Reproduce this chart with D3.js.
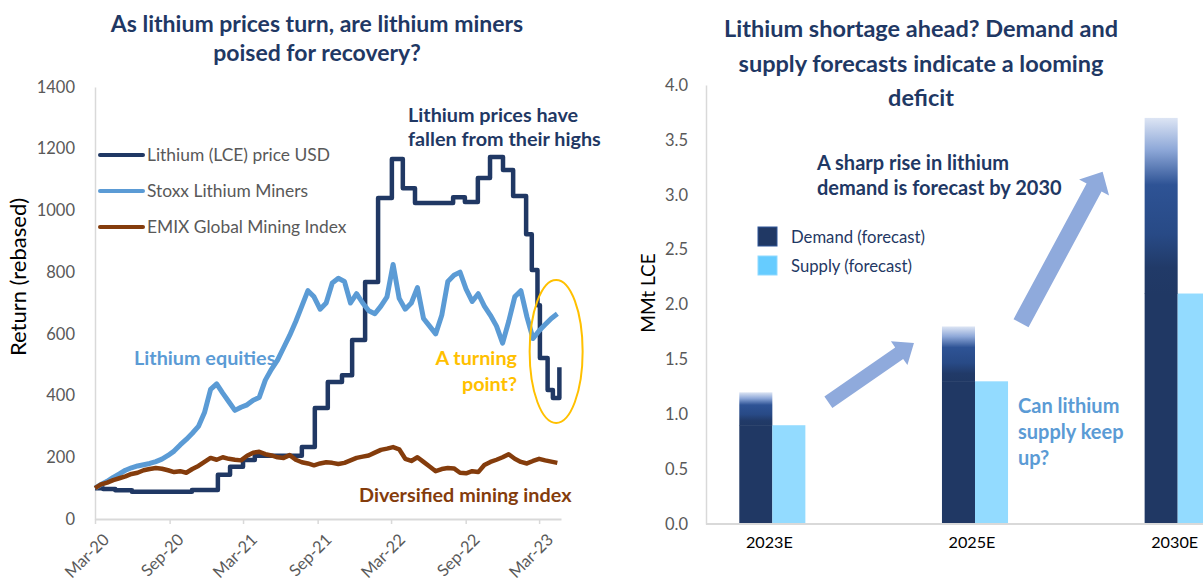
<!DOCTYPE html>
<html>
<head>
<meta charset="utf-8">
<script src="https://cdn.jsdelivr.net/npm/d3@7"></script>
<style>
  body { margin: 0; background: #fff; }
  svg { display: block; font-family: Lato, 'Open Sans', sans-serif; }
</style>
</head>
<body>
<svg id="chart" width="1203" height="583"></svg>
<script>
// ---- left panel: rebased returns ----
const lceDates = ['2020-03-01', '2020-03-21', '2020-04-20', '2020-05-31', '2020-10-26', '2020-12-29',
  '2021-01-28', '2021-03-01', '2021-03-30', '2021-07-24', '2021-08-25', '2021-09-26', '2021-10-31',
  '2021-11-25', '2021-12-27', '2022-01-28', '2022-03-03', '2022-03-30', '2022-04-29', '2022-08-01',
  '2022-08-30', '2022-10-01', '2022-10-31', '2022-12-02', '2022-12-27', '2023-01-28', '2023-02-11',
  '2023-02-25', '2023-03-03', '2023-03-22', '2023-04-04', '2023-04-20'];
const lcePrice = [100, 97, 93, 88, 94, 143, 169, 191, 205, 233, 360, 444, 466, 580, 768, 1040, 1167,
  1072, 1024, 1043, 1027, 1105, 1173, 1131, 1047, 923, 807, 693, 522, 418, 392, 492];

// stoxx + emix are read every 15 days from 1 Mar 2020
const seriesStart = '2020-03-01';
const stepDays = 15;
const stoxxMiners = [100, 112, 122, 135, 146, 158, 166, 172, 176, 180,
  186, 194, 206, 220, 240, 258, 278, 300, 345, 420,
  438, 408, 380, 352, 362, 370, 385, 394, 450, 485,
  515, 555, 595, 640, 690, 740, 720, 680, 700, 765,
  780, 770, 700, 730, 700, 675, 665, 690, 720, 825,
  715, 680, 700, 750, 650, 625, 600, 660, 770, 790,
  800, 745, 705, 730, 690, 660, 625, 570, 640, 720,
  740, 655, 585, 610, 630, 650, 665];
const emixMining = [100, 112, 118, 126, 132, 138, 146, 150, 158, 162,
  165, 163, 158, 152, 155, 150, 162, 172, 185, 198,
  192, 200, 195, 192, 190, 205, 215, 218, 210, 206,
  200, 198, 207, 192, 184, 180, 174, 180, 184, 182,
  178, 182, 190, 198, 202, 206, 215, 224, 228, 233,
  226, 195, 188, 200, 185, 170, 155, 162, 165, 164,
  150, 148, 155, 152, 175, 185, 192, 200, 210, 195,
  185, 180, 188, 195, 190, 186, 182];

const leftNames = ['Lithium (LCE) price USD', 'Stoxx Lithium Miners', 'EMIX Global Mining Index'];
const leftColors = ['#203864', '#5b9bd5', '#843c0c'];
const leftTicksY = [0, 200, 400, 600, 800, 1000, 1200, 1400];
const leftTicksX = ['2020-03-01', '2020-09-01', '2021-03-01', '2021-09-01', '2022-03-01', '2022-09-01', '2023-03-01'];

// ---- right panel: demand vs supply ----
const years = ['2023E', '2025E', '2030E'];
const demand = [1.2, 1.8, 3.7];
const supply = [0.9, 1.3, 2.1];
const rightNames = ['Demand (forecast)', 'Supply (forecast)'];
const rightTicksY = [0, 0.5, 1, 1.5, 2, 2.5, 3, 3.5, 4];

const navy = '#1f3864';
const grey = '#595959';
const axisGrey = '#d9d9d9';

const parse = d3.timeParse('%Y-%m-%d');
const svg = d3.select('#chart');

// ================= LEFT =================
const xL = d3.scaleTime()
  .domain([parse('2020-03-01'), parse('2023-04-24')])
  .range([95, 561]);
const yL = d3.scaleLinear().domain([0, 1400]).range([519, 87]);

const t0 = parse(seriesStart);
const stoxxPts = stoxxMiners.map((v, i) => [d3.timeDay.offset(t0, i * stepDays), v]);
const emixPts = emixMining.map((v, i) => [d3.timeDay.offset(t0, i * stepDays), v]);
const lcePts = lceDates.map((d, i) => [parse(d), lcePrice[i]]);

svg.append('g')
  .attr('class', 'title-left')
  .selectAll('text')
  .data(['As lithium prices turn, are lithium miners', 'poised for recovery?'])
  .join('text')
  .attr('x', 317)
  .attr('y', (d, i) => 32 + i * 29)
  .attr('text-anchor', 'middle')
  .attr('font-size', 23)
  .attr('font-weight', 700)
  .attr('fill', navy)
  .text((d) => d);

// y axis
const yAxisL = svg.append('g')
  .attr('transform', 'translate(95,0)')
  .call(d3.axisLeft(yL).tickValues(leftTicksY).tickFormat(d3.format('d')).tickSize(0).tickPadding(20));
yAxisL.select('.domain').attr('stroke', axisGrey).attr('stroke-width', 1.5);
yAxisL.selectAll('text').attr('font-size', 16.5).attr('fill', grey).attr('font-family', 'Lato');

// x axis
const xAxisL = svg.append('g')
  .attr('transform', 'translate(0,519)')
  .call(d3.axisBottom(xL)
    .tickValues(leftTicksX.map(parse))
    .tickFormat(d3.timeFormat('%b-%y'))
    .tickSize(5)
    .tickSizeOuter(0));
xAxisL.select('.domain').attr('stroke', axisGrey).attr('stroke-width', 2);
xAxisL.selectAll('line').attr('stroke', axisGrey).attr('stroke-width', 1.5);
xAxisL.selectAll('text')
  .attr('font-size', 16.5)
  .attr('fill', grey)
  .attr('font-family', 'Lato')
  .attr('text-anchor', 'end')
  .attr('dx', 0)
  .attr('dy', 0)
  .attr('transform', 'translate(9,16) rotate(-45)');

svg.append('text')
  .attr('transform', 'translate(26,277) rotate(-90)')
  .attr('text-anchor', 'middle')
  .attr('font-size', 22)
  .attr('fill', '#000')
  .text('Return (rebased)');

// lines
const lineL = d3.line().x((d) => xL(d[0])).y((d) => yL(d[1]));
const lineStep = d3.line().x((d) => xL(d[0])).y((d) => yL(d[1])).curve(d3.curveStepAfter);

svg.append('path')
  .datum(lcePts)
  .attr('d', lineStep)
  .attr('fill', 'none')
  .attr('stroke', leftColors[0])
  .attr('stroke-width', 4.5)
  .attr('stroke-linejoin', 'round');

svg.append('path')
  .datum(stoxxPts)
  .attr('d', lineL)
  .attr('fill', 'none')
  .attr('stroke', leftColors[1])
  .attr('stroke-width', 5)
  .attr('stroke-linejoin', 'round');

svg.append('path')
  .datum(emixPts)
  .attr('d', lineL)
  .attr('fill', 'none')
  .attr('stroke', leftColors[2])
  .attr('stroke-width', 4.5)
  .attr('stroke-linejoin', 'round');

// legend
const legL = svg.append('g').selectAll('g')
  .data(leftNames)
  .join('g')
  .attr('transform', (d, i) => `translate(100,${155 + i * 36})`);
legL.append('line')
  .attr('x1', 0).attr('x2', 43)
  .attr('stroke', (d, i) => leftColors[i])
  .attr('stroke-width', 4)
  .attr('stroke-linecap', 'round');
legL.append('text')
  .attr('x', 47)
  .attr('dy', '0.35em')
  .attr('font-size', 17.4)
  .attr('fill', grey)
  .text((d) => d);

// annotations
svg.append('g').selectAll('text')
  .data(['Lithium prices have', 'fallen from their highs'])
  .join('text')
  .attr('x', 408)
  .attr('y', (d, i) => 122 + i * 24)
  .attr('font-size', 19.8)
  .attr('font-weight', 700)
  .attr('fill', navy)
  .text((d) => d);

svg.append('text')
  .attr('x', 134).attr('y', 365)
  .attr('font-size', 19.8).attr('font-weight', 700)
  .attr('fill', '#5b9bd5')
  .text('Lithium equities');

svg.append('g').selectAll('text')
  .data(['A turning', 'point?'])
  .join('text')
  .attr('x', 517)
  .attr('y', (d, i) => 365 + i * 26)
  .attr('text-anchor', 'end')
  .attr('font-size', 19.8)
  .attr('font-weight', 700)
  .attr('fill', '#ffc000')
  .text((d) => d);

svg.append('text')
  .attr('x', 359).attr('y', 502)
  .attr('font-size', 19.8).attr('font-weight', 700)
  .attr('fill', '#843c0c')
  .text('Diversified mining index');

svg.append('ellipse')
  .attr('cx', xL(parse('2023-04-12')))
  .attr('cy', yL(543))
  .attr('rx', 26.5)
  .attr('ry', 71.5)
  .attr('fill', 'none')
  .attr('stroke', '#ffc000')
  .attr('stroke-width', 2);

// ================= RIGHT =================
const xR = d3.scaleBand().domain(years).range([671, 1279]).paddingInner(0.674).paddingOuter(0.337);
const xSub = d3.scaleBand().domain(['demand', 'supply']).range([0, xR.bandwidth()]);
const yR = d3.scaleLinear().domain([0, 4]).range([524, 85]);

svg.append('g')
  .selectAll('text')
  .data(['Lithium shortage ahead? Demand and', 'supply forecasts indicate a looming', 'deficit'])
  .join('text')
  .attr('x', 921)
  .attr('y', (d, i) => 37 + i * 34.5)
  .attr('text-anchor', 'middle')
  .attr('font-size', 23.5)
  .attr('font-weight', 700)
  .attr('fill', navy)
  .text((d) => d);

const defs = svg.append('defs');
const grad = defs.append('linearGradient')
  .attr('id', 'deficitGrad')
  .attr('x1', 0).attr('y1', 1).attr('x2', 0).attr('y2', 0);
[[0, '#203864'], [0.15, '#213a68'], [0.34, '#284a86'], [0.62, '#2e5395'], [0.82, '#8ea8d8'], [1, '#dde5f4']]
  .forEach(([o, c]) => grad.append('stop').attr('offset', o).attr('stop-color', c));

const yAxisR = svg.append('g')
  .attr('transform', 'translate(706,0)')
  .call(d3.axisLeft(yR).tickValues(rightTicksY).tickFormat(d3.format('.1f')).tickSize(0).tickPadding(18));
yAxisR.select('.domain').attr('stroke', axisGrey).attr('stroke-width', 1.5);
yAxisR.selectAll('text').attr('font-size', 16.5).attr('fill', grey).attr('font-family', 'Lato');

svg.append('text')
  .attr('transform', 'translate(655,293) rotate(-90)')
  .attr('text-anchor', 'middle')
  .attr('font-size', 19)
  .attr('fill', '#000')
  .text('MMt LCE');

const groups = svg.append('g').selectAll('g')
  .data(years)
  .join('g')
  .attr('transform', (d) => `translate(${xR(d)},0)`);

// demand: solid to supply level, gradient for the deficit on top
groups.append('rect')
  .attr('x', xSub('demand'))
  .attr('width', xSub.bandwidth())
  .attr('y', (d, i) => yR(supply[i]))
  .attr('height', (d, i) => yR(0) - yR(supply[i]))
  .attr('fill', '#203864');
groups.append('rect')
  .attr('x', xSub('demand'))
  .attr('width', xSub.bandwidth())
  .attr('y', (d, i) => yR(demand[i]))
  .attr('height', (d, i) => yR(supply[i]) - yR(demand[i]) + 0.5)
  .attr('fill', 'url(#deficitGrad)');
groups.append('rect')
  .attr('x', xSub('supply'))
  .attr('width', xSub.bandwidth())
  .attr('y', (d, i) => yR(supply[i]))
  .attr('height', (d, i) => yR(0) - yR(supply[i]))
  .attr('fill', '#93dbff');

const xAxisR = svg.append('g')
  .attr('transform', 'translate(0,524)')
  .call(d3.axisBottom(xR).tickSize(0).tickPadding(12).tickSizeOuter(0));
xAxisR.select('.domain').attr('stroke', axisGrey).attr('stroke-width', 2)
  .attr('d', 'M706,0H1203');
xAxisR.selectAll('text')
  .attr('font-size', 16.2)
  .attr('fill', '#000')
  .attr('font-family', 'Lato')
  .attr('dx', -3);

// legend
const legR = svg.append('g').selectAll('g')
  .data(rightNames)
  .join('g')
  .attr('transform', (d, i) => `translate(758,${227 + i * 29})`);
legR.append('rect')
  .attr('width', 19).attr('height', 19)
  .attr('fill', (d, i) => (i === 0 ? '#203864' : '#66ccff'))
  .attr('stroke', (d, i) => (i === 0 ? '#2f5597' : '#8fd9ff'))
  .attr('stroke-width', 1);
legR.append('text')
  .attr('x', 33).attr('y', 10)
  .attr('dy', '0.35em')
  .attr('font-size', 16.7)
  .attr('fill', navy)
  .text((d) => d);

// arrows
function arrowPoints(x1, y1, x2, y2, shaft, head, headLen) {
  const len = Math.hypot(x2 - x1, y2 - y1);
  const ux = (x2 - x1) / len;
  const uy = (y2 - y1) / len;
  const nx = -uy;
  const ny = ux;
  const bx = x2 - ux * headLen;
  const by = y2 - uy * headLen;
  const s = shaft / 2;
  const h = head / 2;
  return [[x1 + nx * s, y1 + ny * s], [bx + nx * s, by + ny * s], [bx + nx * h, by + ny * h], [x2, y2],
    [bx - nx * h, by - ny * h], [bx - nx * s, by - ny * s], [x1 - nx * s, y1 - ny * s]];
}
const arrows = [
  [xR('2023E') + xR.bandwidth() + 23, yR(1.11), xR('2025E') - 28, yR(1.65), 14, 29, 18],
  [xR('2025E') + xR.bandwidth() + 13, yR(1.83), xR('2030E') - 42, yR(3.21), 17, 34, 18],
];
svg.append('g').selectAll('polygon')
  .data(arrows)
  .join('polygon')
  .attr('points', (a) => arrowPoints(...a).map((p) => p.join(',')).join(' '))
  .attr('fill', '#8faadc');

svg.append('g').selectAll('text')
  .data(['A sharp rise in lithium', 'demand is forecast by 2030'])
  .join('text')
  .attr('x', 817)
  .attr('y', (d, i) => 170 + i * 25)
  .attr('font-size', 20)
  .attr('font-weight', 700)
  .attr('fill', navy)
  .text((d) => d);

svg.append('g').selectAll('text')
  .data(['Can lithium', 'supply keep', 'up?'])
  .join('text')
  .attr('x', 1018)
  .attr('y', (d, i) => 413 + i * 26)
  .attr('font-size', 20)
  .attr('font-weight', 700)
  .attr('fill', '#5b9bd5')
  .text((d) => d);
</script>
</body>
</html>
